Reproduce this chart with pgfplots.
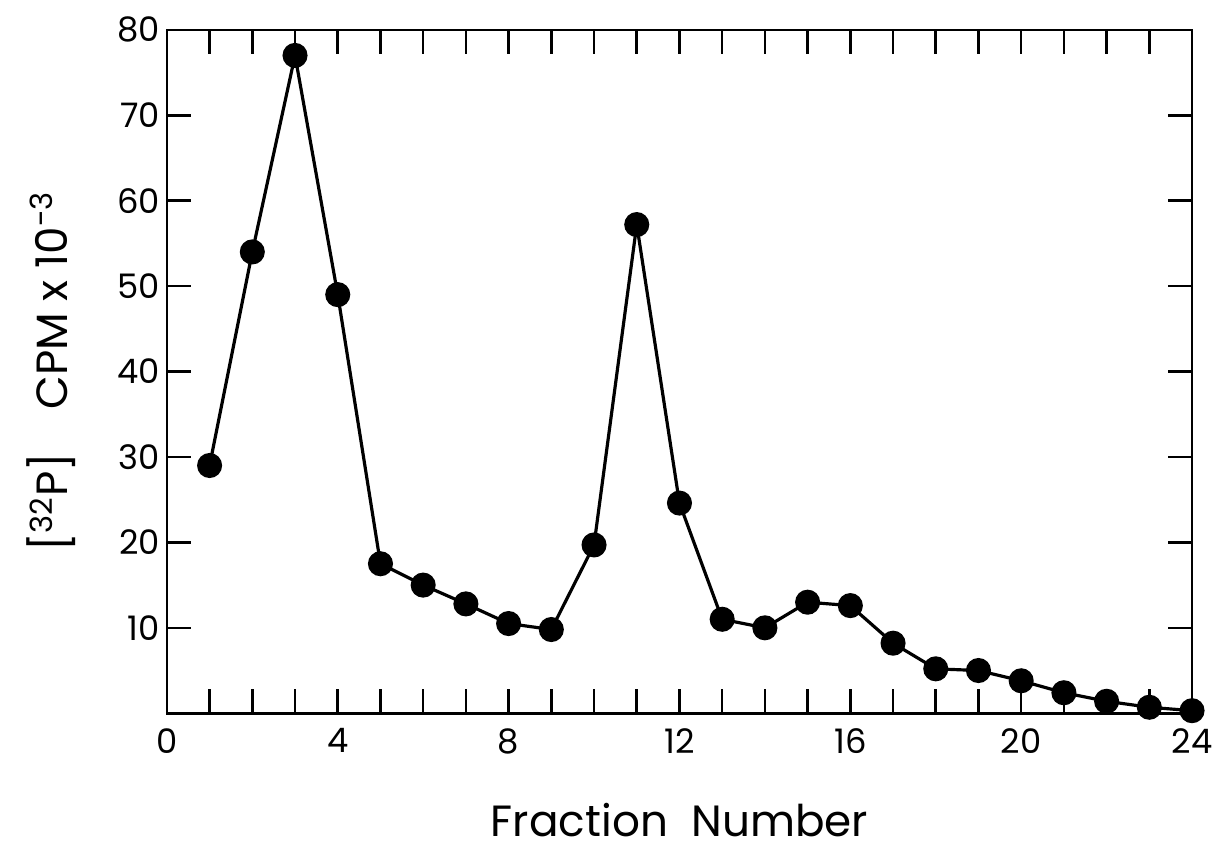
\documentclass[border=0pt]{standalone}
\usepackage{pgfplots}
\pgfplotsset{compat=1.18}
\usepackage{fontspec}
\setmainfont{Poppins}
\begin{document}
\begin{tikzpicture}
\begin{axis}[
  scale only axis, width=516pt, height=344pt,
  xmin=0, xmax=24, ymin=0, ymax=80,
  xtick={0,4,...,24}, minor xtick={0,1,...,24},
  ytick={10,20,...,80}, minor ytick={0,10},
  tick align=inside, major tick length=12pt, minor tick length=12pt,
  every tick/.style={black, line width=1.3pt},
  axis line style={line width=1.3pt},
  tick label style={font=\fontsize{17}{20}\selectfont},
  xticklabel style={yshift=-4pt},
  /pgf/number format/assume math mode=true,
  xlabel={Fraction\ \ Number},
  ylabel={[\textsuperscript{32}P]\quad CPM x 10\textsuperscript{-3}},
  label style={font=\fontsize{22}{26}\selectfont},
  xlabel style={yshift=-18pt},
  ylabel style={yshift=14pt},
]
\addplot[black, line width=1.6pt, mark=*, mark size=5.5pt] coordinates {
(1,29)(2,54)(3,77)(4,49)(5,17.5)(6,15)(7,12.8)(8,10.5)(9,9.8)(10,19.7)
(11,57.2)(12,24.6)(13,11)(14,10)(15,13)(16,12.6)(17,8.2)(18,5.2)(19,5)
(20,3.8)(21,2.4)(22,1.4)(23,0.7)(24,0.3)};
\end{axis}
\path (-84pt,-72pt) rectangle (525pt,359pt);
\end{tikzpicture}
\end{document}
